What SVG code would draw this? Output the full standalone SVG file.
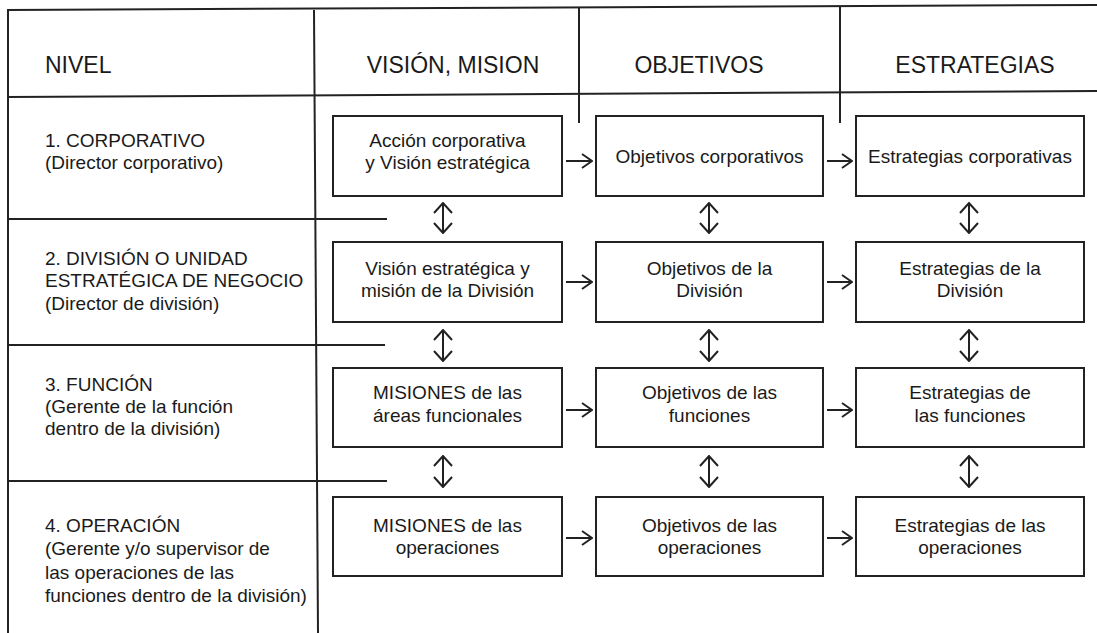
<svg xmlns="http://www.w3.org/2000/svg" width="1097" height="633" viewBox="0 0 1097 633">
<style>
.ln{stroke:#222;stroke-width:2;fill:none}
.box{stroke:#222;stroke-width:2;fill:#fff}
.arr{stroke:#222;stroke-width:2;fill:none}
text{font-family:"Liberation Sans",Arial,sans-serif;fill:#1a1a1a}
.h{font-size:23px}
.t{font-size:19px}
.c{text-anchor:middle}
</style>
<defs>
<linearGradient id="bg" x1="0" y1="0" x2="1" y2="0">
<stop offset="0" stop-color="#e6e6e6"/>
<stop offset="0.4" stop-color="#888"/>
<stop offset="1" stop-color="#222"/>
</linearGradient>
<marker id="ah" viewBox="0 0 12 16" refX="11" refY="8" markerWidth="12" markerHeight="16" markerUnits="userSpaceOnUse" orient="auto-start-reverse">
<path d="M1,1 L11,8 L1,15" fill="none" stroke="#222" stroke-width="2"/>
</marker>
<marker id="dh" viewBox="0 0 12 20" refX="11" refY="10" markerWidth="12" markerHeight="20" markerUnits="userSpaceOnUse" orient="auto-start-reverse">
<path d="M1,1 L11,10 L1,19" fill="none" stroke="#222" stroke-width="2"/>
</marker>
</defs>
<rect width="1097" height="633" fill="#fff"/>

<g id="table">
<line class="ln" x1="7" y1="10" x2="1097" y2="5"/>
<line class="ln" x1="7" y1="97" x2="1097" y2="91"/>
<line class="ln" x1="8" y1="10" x2="8" y2="633"/>
<line class="ln" x1="314" y1="10" x2="318" y2="633"/>
<line class="ln" x1="579" y1="8" x2="579" y2="123"/>
<line class="ln" x1="840" y1="7" x2="840" y2="123"/>
<line class="ln" x1="7" y1="219" x2="387" y2="219"/>
<line class="ln" x1="7" y1="345" x2="385" y2="345"/>
<line class="ln" x1="7" y1="481" x2="387" y2="481"/>
<line x1="527" y1="631" x2="1097" y2="631" stroke="url(#bg)" stroke-width="2"/>
</g>

<g id="headers">
<text class="h" x="45" y="73">NIVEL</text>
<text class="h c" x="453" y="73">VISIÓN, MISION</text>
<text class="h c" x="699" y="73">OBJETIVOS</text>
<text class="h c" x="975" y="73">ESTRATEGIAS</text>
</g>

<g id="level1"><text class="t" x="45" y="147">1. CORPORATIVO</text><text class="t" x="45" y="169">(Director corporativo)</text></g>
<g id="level2"><text class="t" x="45" y="265">2. DIVISIÓN O UNIDAD</text><text class="t" x="45" y="287">ESTRATÉGICA DE NEGOCIO</text><text class="t" x="45" y="310">(Director de división)</text></g>
<g id="level3"><text class="t" x="45" y="391">3. FUNCIÓN</text><text class="t" x="45" y="413">(Gerente de la función</text><text class="t" x="45" y="435">dentro de la división)</text></g>
<g id="level4"><text class="t" x="45" y="532">4. OPERACIÓN</text><text class="t" x="45" y="555">(Gerente y/o supervisor de</text><text class="t" x="45" y="579">las operaciones de las</text><text class="t" x="45" y="602">funciones dentro de la división)</text></g>

<g id="n11"><rect class="box" x="333" y="116" width="229" height="80"/><text class="t c" x="447.5" y="147">Acción corporativa</text><text class="t c" x="447.5" y="169">y Visión estratégica</text></g>
<g id="n12"><rect class="box" x="596" y="116" width="227" height="80"/><text class="t c" x="709.5" y="163">Objetivos corporativos</text></g>
<g id="n13"><rect class="box" x="856" y="116" width="228" height="80"/><text class="t c" x="970" y="163">Estrategias corporativas</text></g>

<g id="n21"><rect class="box" x="333" y="242" width="229" height="80"/><text class="t c" x="447.5" y="275">Visión estratégica y</text><text class="t c" x="447.5" y="297">misión de la División</text></g>
<g id="n22"><rect class="box" x="596" y="242" width="227" height="80"/><text class="t c" x="709.5" y="275">Objetivos de la</text><text class="t c" x="709.5" y="297">División</text></g>
<g id="n23"><rect class="box" x="856" y="242" width="228" height="80"/><text class="t c" x="970" y="275">Estrategias de la</text><text class="t c" x="970" y="297">División</text></g>

<g id="n31"><rect class="box" x="333" y="368" width="229" height="79"/><text class="t c" x="447.5" y="399">MISIONES de las</text><text class="t c" x="447.5" y="422">áreas funcionales</text></g>
<g id="n32"><rect class="box" x="596" y="368" width="227" height="79"/><text class="t c" x="709.5" y="399">Objetivos de las</text><text class="t c" x="709.5" y="422">funciones</text></g>
<g id="n33"><rect class="box" x="856" y="368" width="228" height="79"/><text class="t c" x="970" y="399">Estrategias de</text><text class="t c" x="970" y="422">las funciones</text></g>

<g id="n41"><rect class="box" x="333" y="497" width="229" height="79"/><text class="t c" x="447.5" y="532">MISIONES de las</text><text class="t c" x="447.5" y="554">operaciones</text></g>
<g id="n42"><rect class="box" x="596" y="497" width="227" height="79"/><text class="t c" x="709.5" y="532">Objetivos de las</text><text class="t c" x="709.5" y="554">operaciones</text></g>
<g id="n43"><rect class="box" x="856" y="497" width="228" height="79"/><text class="t c" x="970" y="532">Estrategias de las</text><text class="t c" x="970" y="554">operaciones</text></g>

<g id="connectors">
<line class="arr" x1="566" y1="161" x2="592" y2="161" marker-end="url(#ah)"/>
<line class="arr" x1="827" y1="161" x2="852" y2="161" marker-end="url(#ah)"/>
<line class="arr" x1="566" y1="282" x2="592" y2="282" marker-end="url(#ah)"/>
<line class="arr" x1="827" y1="282" x2="852" y2="282" marker-end="url(#ah)"/>
<line class="arr" x1="566" y1="410" x2="592" y2="410" marker-end="url(#ah)"/>
<line class="arr" x1="827" y1="410" x2="852" y2="410" marker-end="url(#ah)"/>
<line class="arr" x1="566" y1="538" x2="592" y2="538" marker-end="url(#ah)"/>
<line class="arr" x1="827" y1="538" x2="852" y2="538" marker-end="url(#ah)"/>

<line class="arr" x1="443" y1="203" x2="443" y2="233" marker-start="url(#dh)" marker-end="url(#dh)"/>
<line class="arr" x1="709" y1="203" x2="709" y2="233" marker-start="url(#dh)" marker-end="url(#dh)"/>
<line class="arr" x1="969" y1="203" x2="969" y2="233" marker-start="url(#dh)" marker-end="url(#dh)"/>
<line class="arr" x1="443" y1="330" x2="443" y2="361" marker-start="url(#dh)" marker-end="url(#dh)"/>
<line class="arr" x1="709" y1="330" x2="709" y2="361" marker-start="url(#dh)" marker-end="url(#dh)"/>
<line class="arr" x1="969" y1="330" x2="969" y2="361" marker-start="url(#dh)" marker-end="url(#dh)"/>
<line class="arr" x1="443" y1="456" x2="443" y2="487" marker-start="url(#dh)" marker-end="url(#dh)"/>
<line class="arr" x1="709" y1="456" x2="709" y2="487" marker-start="url(#dh)" marker-end="url(#dh)"/>
<line class="arr" x1="969" y1="456" x2="969" y2="487" marker-start="url(#dh)" marker-end="url(#dh)"/>
</g>
</svg>
